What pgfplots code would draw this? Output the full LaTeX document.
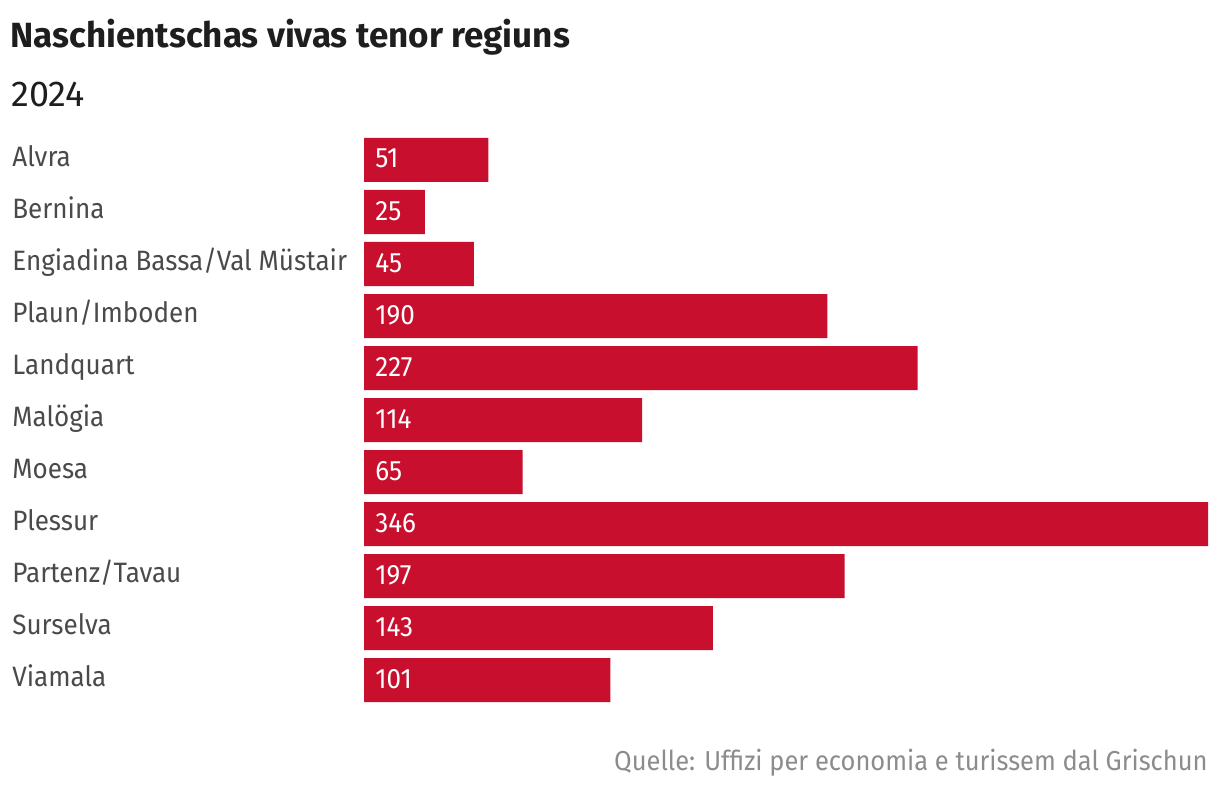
\documentclass[border=0pt]{standalone}
\usepackage{pgfplots}
\pgfplotsset{compat=1.18}
\usepackage{pgfplotstable}
\usepackage{fontspec}
\setmainfont{Fira Sans}[FakeStretch=0.93]
\newfontfamily\titlefont{Fira Sans}
\definecolor{barred}{HTML}{C8102E}
\definecolor{labgray}{HTML}{4A4A4A}
\definecolor{titlegray}{HTML}{1E1E1E}
\definecolor{srcgray}{HTML}{8C8C8C}

\pgfplotstableread[col sep=comma]{
idx,val
0,51
1,25
2,45
3,190
4,227
5,114
6,65
7,346
8,197
9,143
10,101
}\datatable

\begin{document}
\begin{tikzpicture}
\path[use as bounding box] (0,0) rectangle (610pt,396pt);
\node[anchor=base west, inner sep=0pt, text=titlegray, font=\titlefont\fontsize{17.5}{20}\selectfont\bfseries] at (5pt,372.3pt) {Naschientschas vivas tenor regiuns};
\node[anchor=base west, inner sep=0pt, text=titlegray, font=\titlefont\fontsize{18}{21}\selectfont] at (5.5pt,342.5pt) {2024};
\node[anchor=base east, inner sep=0pt, text=srcgray, font=\fontsize{13.7}{16}\selectfont] at (604pt,11pt) {Quelle: Uffizi per economia e turissem dal Grischun};
\begin{axis}[
  at={(182pt,43pt)}, anchor=south west,
  scale only axis, width=422pt, height=286pt,
  xmin=0, xmax=346, ymin=-0.5, ymax=10.5,
  y dir=reverse,
  axis line style={draw=none},
  xtick=\empty,
  ytick={0,...,10},
  yticklabels={Alvra,Bernina,Engiadina Bassa/Val Müstair,Plaun/Imboden,Landquart,Malögia,Moesa,Plessur,Partenz/Tavau,Surselva,Viamala},
  ytick style={draw=none},
  yticklabel style={anchor=base west, inner sep=0pt, xshift=-176pt, yshift=-3.4pt, text=labgray, font=\fontsize{14}{16}\selectfont},
  /pgf/number format/assume math mode=true,
  clip=false,
]
\addplot[xbar, bar width=22pt, fill=barred, draw=none] table[x=val, y=idx] {\datatable};
\addplot[only marks, mark=none, nodes near coords, point meta=explicit,
  nodes near coords style={anchor=base west, inner sep=0pt, xshift=5.5pt, yshift=-4pt, text=white, font=\fontsize{14}{16}\selectfont}]
  table[x expr=0, y=idx, meta=val] {\datatable};
\end{axis}
\end{tikzpicture}
\end{document}
